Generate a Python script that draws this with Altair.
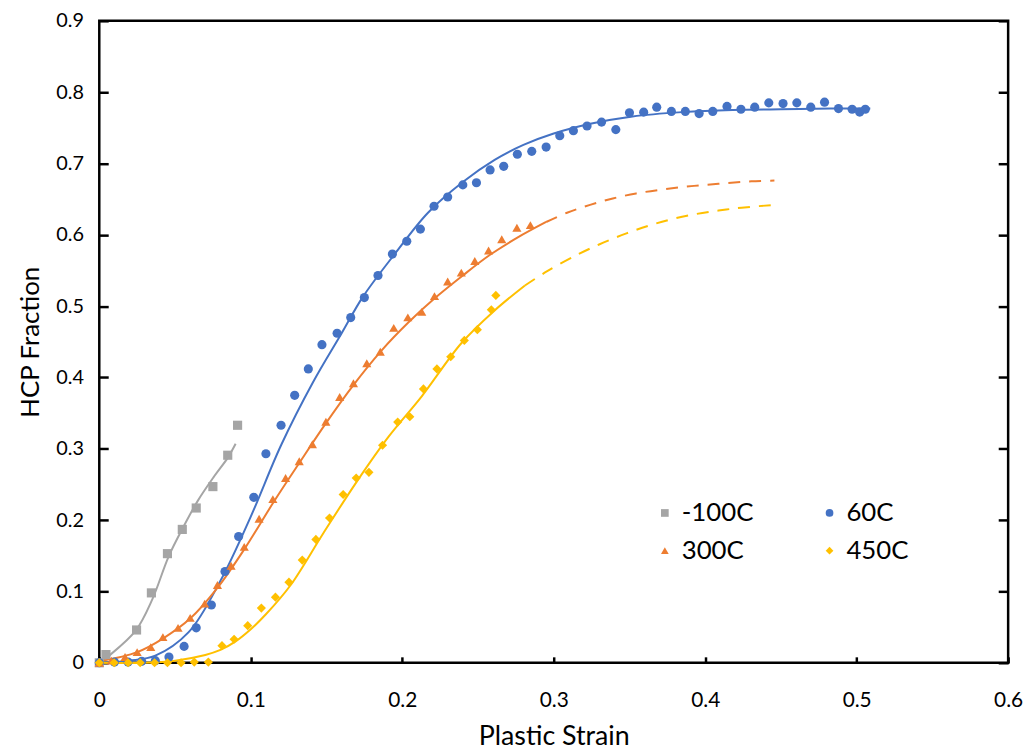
import altair as alt
import pandas as pd

# ---------------- data ----------------
# legend order (filled column by column: -100C / 300C, then 60C / 450C)
series_names = ["-100C", "300C", "60C", "450C"]
series_colors = ["#A5A5A5", "#ED7D31", "#4472C4", "#FFC000"]
series_shapes = ["square", "triangle-up", "circle", "diamond"]

# measured points
gray_x = [0.0, 0.0044, 0.0246, 0.0344, 0.045, 0.0548, 0.064, 0.075, 0.0848, 0.0913]
gray_y = [0.0, 0.0115, 0.046, 0.098, 0.153, 0.187, 0.217, 0.247, 0.291, 0.333]

blue_x = [0.0, 0.01, 0.019, 0.028, 0.037, 0.046, 0.056, 0.064, 0.074, 0.083, 0.092,
          0.102, 0.110, 0.120, 0.129, 0.138, 0.147, 0.157, 0.166, 0.175, 0.184,
          0.1935, 0.203, 0.212, 0.221, 0.230, 0.240, 0.249, 0.258, 0.267, 0.276,
          0.2855, 0.295, 0.304, 0.313, 0.322, 0.3316, 0.341, 0.350, 0.3594, 0.368,
          0.3777, 0.3869, 0.396, 0.405, 0.4144, 0.4236, 0.4327, 0.442, 0.4514,
          0.4605, 0.4697, 0.4788, 0.488, 0.497, 0.502, 0.5057]
blue_y = [0.0, 0.001, 0.001, 0.002, 0.003, 0.008, 0.023, 0.049, 0.081, 0.128, 0.177,
          0.232, 0.293, 0.333, 0.375, 0.412, 0.446, 0.462, 0.484, 0.512, 0.543,
          0.573, 0.591, 0.608, 0.640, 0.653, 0.670, 0.673, 0.691, 0.696, 0.713,
          0.717, 0.723, 0.739, 0.746, 0.7525, 0.758, 0.7475, 0.771, 0.772, 0.779,
          0.773, 0.773, 0.770, 0.773, 0.780, 0.776, 0.779, 0.785, 0.784,
          0.785, 0.779, 0.786, 0.777, 0.776, 0.772, 0.776]

orange_x = [0.0, 0.008, 0.017, 0.025, 0.034, 0.042, 0.052, 0.060, 0.0696, 0.078,
            0.087, 0.0957, 0.1055, 0.1146, 0.123, 0.132, 0.1407, 0.1496, 0.1587,
            0.1678, 0.1766, 0.1855, 0.1944, 0.2037, 0.2129, 0.2213, 0.230, 0.239,
            0.2479, 0.257, 0.2657, 0.2757, 0.2846]
orange_y = [0.0, 0.003, 0.008, 0.015, 0.022, 0.036, 0.049, 0.063, 0.083, 0.109,
            0.136, 0.1625, 0.202, 0.2295, 0.259, 0.2825, 0.3065, 0.338, 0.3726,
            0.392, 0.420, 0.436, 0.4695, 0.4843, 0.492, 0.514, 0.5346, 0.547,
            0.5633, 0.578, 0.5937, 0.610, 0.6136]

yellow_x = [0.0, 0.0098, 0.019, 0.027, 0.0365, 0.045, 0.054, 0.0627, 0.072, 0.081,
            0.089, 0.098, 0.107, 0.1163, 0.1252, 0.134, 0.143, 0.152, 0.161, 0.1696,
            0.178, 0.187, 0.197, 0.205, 0.214, 0.2229, 0.232, 0.241, 0.2496, 0.2588,
            0.2618]
yellow_y = [0.0, 0.0, 0.0, 0.0, 0.0, 0.0, 0.0, 0.001, 0.001, 0.024,
            0.033, 0.052, 0.0767, 0.092, 0.113, 0.144, 0.173, 0.203, 0.236, 0.259,
            0.267, 0.305, 0.3375, 0.345, 0.384, 0.412, 0.429, 0.452, 0.467, 0.495,
            0.515]

# fitted curves (solid part)
gray_fit_x = [0.0, 0.0065, 0.024, 0.035, 0.0457, 0.0554, 0.065, 0.076, 0.085, 0.090]
gray_fit_y = [0.0, 0.010, 0.045, 0.089, 0.1486, 0.190, 0.227, 0.2618, 0.288, 0.307]

blue_fit_x = [0.0, 0.02, 0.037, 0.059, 0.08, 0.10, 0.12, 0.141, 0.16, 0.174, 0.195,
              0.217, 0.24, 0.261, 0.28, 0.300, 0.325, 0.352, 0.385, 0.418, 0.45,
              0.483, 0.509]
blue_fit_y = [0.0, 0.003, 0.010, 0.043, 0.115, 0.205, 0.305, 0.393, 0.462, 0.513,
              0.573, 0.631, 0.674, 0.705, 0.726, 0.742, 0.756, 0.766, 0.772, 0.775,
              0.776, 0.777, 0.777]

orange_fit_x = [0.0, 0.025, 0.042, 0.06, 0.078, 0.096, 0.115, 0.132, 0.15, 0.168,
                0.186, 0.204, 0.222, 0.24, 0.258, 0.276, 0.295]
orange_fit_y = [0.002, 0.015, 0.034, 0.062, 0.105, 0.16, 0.225, 0.28, 0.337, 0.39,
                0.437, 0.477, 0.512, 0.543, 0.572, 0.596, 0.618]

yellow_fit_x = [0.0, 0.03, 0.05, 0.07, 0.08, 0.09, 0.1, 0.11, 0.126, 0.148, 0.17,
                0.191, 0.213, 0.239, 0.261, 0.281]
yellow_fit_y = [0.0, 0.0, 0.003, 0.011, 0.018, 0.030, 0.047, 0.068, 0.108, 0.182, 0.254,
                0.317, 0.374, 0.448, 0.494, 0.529]

# fitted curves (dashed extrapolation)
orange_ext_x = [0.295, 0.3088, 0.324, 0.339, 0.3544, 0.3697, 0.385, 0.400, 0.4153,
                0.4305, 0.4457]
orange_ext_y = [0.618, 0.631, 0.642, 0.651, 0.658, 0.663, 0.667, 0.670, 0.6727,
                0.675, 0.676]
yellow_ext_x = [0.281, 0.2957, 0.3164, 0.3327, 0.348, 0.363, 0.378, 0.3935, 0.4088,
                0.424, 0.4457]
yellow_ext_y = [0.529, 0.549, 0.573, 0.589, 0.602, 0.613, 0.622, 0.629, 0.634,
                0.638, 0.642]

x_ticks = [0, 0.1, 0.2, 0.3, 0.4, 0.5, 0.6]
y_ticks = [0, 0.1, 0.2, 0.3, 0.4, 0.5, 0.6, 0.7, 0.8, 0.9]

# ---------------- tables ----------------
def table(name, xs, ys):
    return pd.DataFrame({"series": name, "x": xs, "y": ys, "i": range(len(xs))})

points = pd.concat([
    table("-100C", gray_x, gray_y),
    table("60C", blue_x, blue_y),
    table("300C", orange_x, orange_y),
    table("450C", yellow_x, yellow_y),
])
fit_tables = {
    "-100C": table("-100C", gray_fit_x, gray_fit_y),
    "60C": table("60C", blue_fit_x, blue_fit_y),
    "300C": table("300C", orange_fit_x, orange_fit_y),
    "450C": table("450C", yellow_fit_x, yellow_fit_y),
}
ext_tables = {
    "300C": table("300C", orange_ext_x, orange_ext_y),
    "450C": table("450C", yellow_ext_x, yellow_ext_y),
}
color_of = dict(zip(series_names, series_colors))

FONT = "Lato"
W, H = 916, 647

xscale = alt.Scale(domain=[0, 0.6], nice=False, zero=False)
yscale = alt.Scale(domain=[0, 0.9], nice=False, zero=False)

x_axis = alt.Axis(values=x_ticks, format="~g", title="Plastic Strain", grid=False,
                  domain=False, offset=-6, tickSize=6, tickWidth=2.5, tickColor="black",
                  labelPadding=27, labelFontSize=21, titleFontSize=27,
                  titleFontWeight="normal", titlePadding=13, labelColor="black",
                  titleColor="black", labelFlush=False, labelFont=FONT, titleFont=FONT)
y_axis = alt.Axis(values=y_ticks, format="~g", title="HCP Fraction", grid=False,
                  domain=False, offset=-9, tickSize=9, tickWidth=2.5, tickColor="black",
                  labelPadding=16, labelFontSize=20, titleFontSize=26,
                  titleFontWeight="normal", titlePadding=12, labelColor="black",
                  titleColor="black", labelFlush=False, labelFont=FONT, titleFont=FONT)
y_axis_right = alt.Axis(values=y_ticks, title=None, grid=False, domain=False,
                        labels=False, orient="right", offset=-10, tickSize=10,
                        tickWidth=2.5, tickColor="black")

X = alt.X("x:Q", scale=xscale, axis=x_axis)
Y = alt.Y("y:Q", scale=yscale, axis=y_axis)

legend = alt.Legend(title=None, orient="none", legendX=557, legendY=483,
                    columns=2, columnPadding=63, rowPadding=12,
                    labelFontSize=26, labelFont=FONT, labelColor="black",
                    symbolSize=60, symbolStrokeWidth=0, labelOffset=4,
                    padding=0)

color = alt.Color("series:N",
                  scale=alt.Scale(domain=series_names, range=series_colors),
                  legend=legend)
shape = alt.Shape("series:N",
                  scale=alt.Scale(domain=series_names, range=series_shapes),
                  legend=legend)

layers = []
for name in ["-100C", "60C", "300C", "450C"]:
    layers.append(
        alt.Chart(fit_tables[name]).mark_line(
            strokeWidth=2, interpolate="catmull-rom", color=color_of[name]
        ).encode(x=X, y=Y, order="i:Q")
    )
for name in ["300C", "450C"]:
    layers.append(
        alt.Chart(ext_tables[name]).mark_line(
            strokeWidth=2, interpolate="catmull-rom", strokeDash=[12, 9],
            color=color_of[name]
        ).encode(x=X, y=Y, order="i:Q")
    )

pts = alt.Chart(points).mark_point(filled=True, size=85, opacity=1).encode(
    x=X, y=Y, color=color, shape=shape,
)
layers.append(pts)

inner = alt.layer(*layers)

right_ticks = alt.Chart(points).mark_point(opacity=0).encode(
    x=alt.X("x:Q", scale=xscale, axis=None),
    y=alt.Y("y:Q", scale=yscale, axis=y_axis_right),
)

chart = alt.layer(inner, right_ticks).resolve_axis(
    x="independent", y="independent"
).properties(
    width=W, height=H,
    autosize=alt.AutoSizeParams(type="none"),
    padding={"left": 92, "top": 10, "right": 18, "bottom": 90},
    background="white",
).configure_view(
    stroke="black", strokeWidth=2.5
)

chart.save("out.html", embed_options={"renderer": "svg", "actions": False})
